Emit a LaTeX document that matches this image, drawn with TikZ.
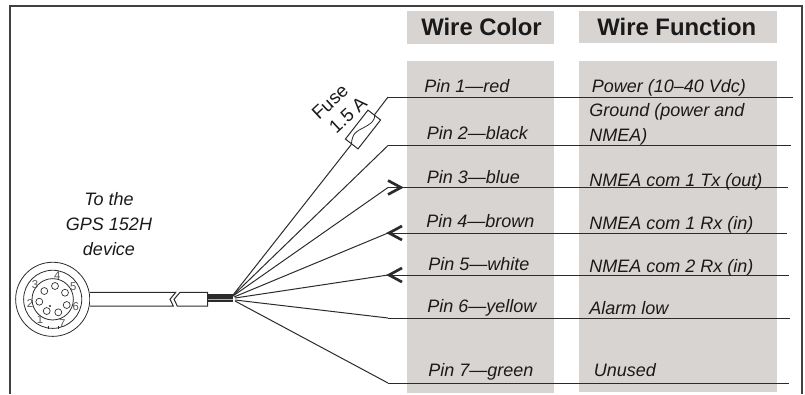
\documentclass[tikz,border=0pt]{standalone}
\usepackage{fontspec}
\setmainfont{Liberation Sans}
\definecolor{panelgray}{HTML}{D8D4D1}
\definecolor{inkgray}{HTML}{2B2B2B}
\definecolor{textgray}{HTML}{1A1A1A}
\tikzset{
  panel/.style = {fill=panelgray,draw=none},
  wire/.style = {draw=inkgray,line width=0.75pt},
  chevron/.style = {draw=inkgray,line width=2pt,miter limit=10},
  headlabel/.style = {anchor=base west,inner sep=0pt,font=\fontsize{17.9}{20}\selectfont\bfseries,text=textgray},
  pinlabel/.style = {anchor=base west,inner sep=0pt,font=\fontsize{13.5}{16}\selectfont\itshape,text=textgray},
  fuselabel/.style = {inner sep=0pt,rotate=43,font=\fontsize{14}{16}\selectfont,text=textgray},
  digit/.style = {inner sep=0pt,font=\fontsize{8.5}{9}\selectfont,text=inkgray!80}
}

\begin{document}
\begin{tikzpicture}[x=0.75pt,y=-0.75pt]
  \def\PlugRadiusOuter{27.8pt}
  \def\PlugRadiusMiddle{21.8pt}
  \def\PlugRadiusInner{15.5pt}
  \def\PinRadius{2.6pt}
  \useasboundingbox (0,0) rectangle (805,394);
  % panels
  \fill[panel] (407,11) rectangle (554,44);
  \fill[panel] (579,11) rectangle (777,43);
  \fill[panel] (407,61) rectangle (554,393);
  \fill[panel] (579,61) rectangle (777,392);
  % frame
  \draw[inkgray!90,line width=1.5pt] (10,394)--(10,6)--(802,6)--(802,394);
  % headers
  \node[headlabel] (colorhead) at (421,35) {Wire Color};
  \node[headlabel] (functionhead) at (597,35) {Wire Function};
  % plug
  \coordinate (plug) at (52.7,299.3);
  \draw[inkgray,fill=white,line width=0.6pt] (plug) circle (\PlugRadiusOuter); % outer
  \draw[inkgray,line width=0.6pt] (plug) circle (\PlugRadiusMiddle); % middle
  \draw[inkgray,line width=0.6pt] (plug) circle (\PlugRadiusInner); % inner
  \draw[inkgray,line width=0.5pt] (48,329)--(48,326) (58,329)--(58,326);
  \foreach \n/\px/\py/\lx/\ly in {1/46.7/311/40/320,2/39.3/301.7/30/303.3,3/44.3/291/35/284.3,4/55/286/57.3/275.7,5/65/292.7/73.3/286.7,6/66.7/305/75.7/306.7,7/58.3/312.3/62.3/323.3} {
    \draw[inkgray,line width=0.5pt] (\px,\py) circle (\PinRadius);
    \node[digit] (digit\n) at (\lx,\ly) {\n};
  }
  \fill[inkgray] (50,306) circle (0.8pt);
  % cable
  \fill[inkgray] (207,294) rectangle (233,302);
  \draw[white!70!black,line width=0.6pt] (207,299.3)--(233,299.3);
  \draw[inkgray,fill=white,line width=0.75pt] (90,292.3)--(175.7,292.3)--(170,299.3)--(173.3,306)--(90,306);
  \draw[inkgray,fill=white,line width=0.75pt] (180,292.3)--(207.5,292.3)--(207.5,306)--(177.3,306)--(174,299.3)--cycle;
  % wires
  \coordinate (start1) at (233,295);
  \coordinate (start2) at (233,295.5);
  \coordinate (start3) at (233,296);
  \coordinate (start4) at (234,297);
  \coordinate (start5) at (235,298);
  \coordinate (start6) at (235,300);
  \coordinate (start7) at (235,301);
  \foreach \n/\yy/\xx in {1/97/793,2/145.5/791,3/187.5/788,4/233/787,5/275/789,6/318/790,7/383/789} {
    \coordinate (knee\n) at (388,\yy);
    \coordinate (end\n) at (\xx,\yy);
    \draw[wire] (knee\n) -- (end\n);
  }
  \foreach \n in {2,...,7} {
    \draw[wire] (start\n) -- (knee\n);
  }
  % fuse
  \node[draw=inkgray,fill=white,line width=0.75pt,rotate=52,minimum width=27.5pt,minimum height=12pt,inner sep=0pt] (fuse) at (363,129.5) {};
  \draw[wire] (start1) -- (fuse.west) (fuse.east) -- (knee1);
  \draw[inkgray,line width=0.6pt] (fuse.west) .. controls (352,133) and (357,131) .. (363,128) .. controls (370,124) and (375,122) .. (fuse.east);
  \node[fuselabel] (fusetext) at (330,102) {Fuse};
  \node[fuselabel] (amptext) at (348,115) {1.5 A};
  % arrows
  \draw[chevron] (388,180.5)--(401,187.5)--(388,194.5);
  \draw[chevron] (402,226)--(389,233)--(402,240);
  \draw[chevron] (402,268)--(389,275)--(402,282);
  % device text
  \node[pinlabel,anchor=base] (devicea) at (109,205) {To the};
  \node[pinlabel,anchor=base] (deviceb) at (109,230) {GPS 152H};
  \node[pinlabel,anchor=base] (devicec) at (109,255) {device};
  % pin text
  \node[pinlabel] (color1) at (424,92) {Pin 1—red};
  \node[pinlabel] (color2) at (426.5,139.5) {Pin 2—black};
  \node[pinlabel] (color3) at (426.5,183.5) {Pin 3—blue};
  \node[pinlabel] (color4) at (426,227.5) {Pin 4—brown};
  \node[pinlabel] (color5) at (428,270) {Pin 5—white};
  \node[pinlabel] (color6) at (427,312) {Pin 6—yellow};
  \node[pinlabel] (color7) at (428,376.5) {Pin 7—green};
  % function text
  \node[pinlabel] (function1) at (591.5,92) {Power (10–40 Vdc)};
  \node[pinlabel] (function2a) at (589,116.5) {Ground (power and};
  \node[pinlabel] (function2b) at (589,141.5) {NMEA)};
  \node[pinlabel] (function3) at (589,186) {NMEA com 1 Tx (out)};
  \node[pinlabel] (function4) at (589,229.5) {NMEA com 1 Rx (in)};
  \node[pinlabel] (function5) at (589,272) {NMEA com 2 Rx (in)};
  \node[pinlabel] (function6) at (589,314.5) {Alarm low};
  \node[pinlabel] (function7) at (593.5,376.5) {Unused};
\end{tikzpicture}
\end{document}
